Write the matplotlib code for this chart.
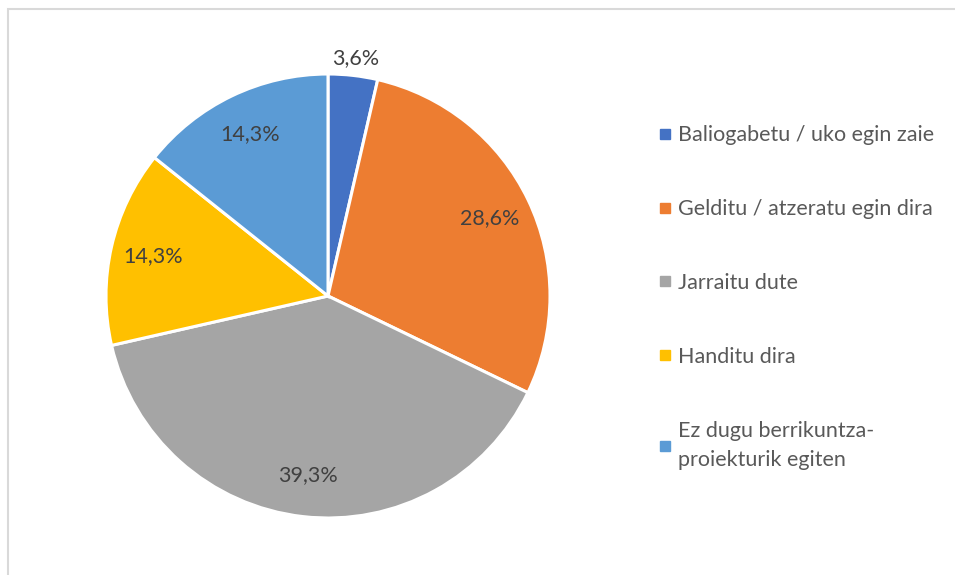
import numpy as np
import matplotlib
matplotlib.use("Agg")
import matplotlib.pyplot as plt
from matplotlib.patches import Rectangle
from matplotlib.lines import Line2D

# Datuak
kategoriak = ["Baliogabetu / uko egin zaie",
              "Gelditu / atzeratu egin dira",
              "Jarraitu dute",
              "Handitu dira",
              "Ez dugu berrikuntza-\nproiekturik egiten"]
ehunekoak = [3.6, 28.6, 39.3, 14.3, 14.3]
koloreak = ["#4472C4", "#ED7D31", "#A5A5A5", "#FFC000", "#5B9BD5"]

plt.rcParams['font.family'] = ['Lato', 'DejaVu Sans']

fig = plt.figure(figsize=(9.55, 5.75), dpi=100)

# Marko grisa
fig.patches.append(Rectangle((7.5 / 955, -0.1), 1.1, (575 - 8.5) / 575 + 0.1,
                             transform=fig.transFigure, fill=False,
                             edgecolor="#D9D9D9", linewidth=1.5))

# Tarta
cx, cy, r = 328, 296, 222
ax = fig.add_axes([(cx - r) / 955, (575 - cy - r) / 575, 2 * r / 955, 2 * r / 575])
wedges, texts, autotexts = ax.pie(
    ehunekoak, colors=koloreak, startangle=90, counterclock=False,
    autopct=lambda p: "", pctdistance=0.81,
    wedgeprops=dict(edgecolor="white", linewidth=2.2))
for w, t, v in zip(wedges, autotexts, ehunekoak):
    t.set_text(f"{v:.1f}".replace(".", ",") + "%")
    t.set_color("#404040")
    t.set_fontsize(15.5)
# Zati txikiaren etiketa kanpoan
w0 = wedges[0]
ang = np.deg2rad((w0.theta1 + w0.theta2) / 2)
autotexts[0].set_position((1.09 * np.cos(ang), 1.08 * np.sin(ang)))
ax.set_xlim(-1, 1)
ax.set_ylim(-1, 1)
ax.set_aspect("equal")
ax.axis("off")

# Legenda
eskuak = [Line2D([], [], marker="s", linestyle="none", markersize=7,
                 markerfacecolor=c, markeredgecolor=c) for c in koloreak]
leg = fig.legend(eskuak, kategoriak, loc="upper left",
                 bbox_to_anchor=(639 / 955, 1 - 106 / 575), frameon=False,
                 fontsize=15.5, labelcolor="#595959", handlelength=0.6,
                 handletextpad=0.3, labelspacing=2.5)
for t in leg.get_texts():
    t.set_linespacing(1.6)

fig.savefig("out.png", dpi=100)
